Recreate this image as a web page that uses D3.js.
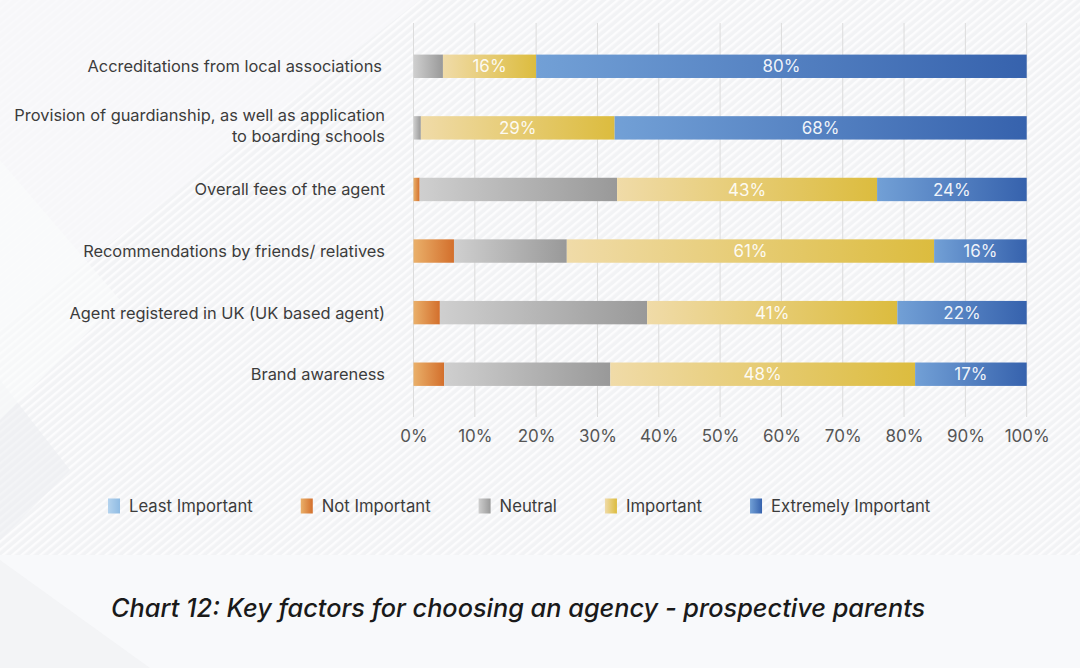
<!DOCTYPE html>
<html>

<head>
  <meta charset="utf-8">
  <title>Key factors for choosing an agency</title>
  <script src="https://d3js.org/d3.v7.min.js"></script>
  <style>
    body { margin: 0; background: #f6f7f9; }
    text { font-family: Inter, Roboto, sans-serif; }
  </style>
</head>

<body>
  <script>
    // data (segment widths in %, labels as printed)
    var categories = [
      "Accreditations from local associations",
      "Provision of guardianship, as well as application|to boarding schools",
      "Overall fees of the agent",
      "Recommendations by friends/ relatives",
      "Agent registered in UK (UK based agent)",
      "Brand awareness"
    ];
    var seriesNames = ["Least Important", "Not Important", "Neutral", "Important", "Extremely Important"];
    var leastImportant = [0, 0, 0, 0, 0, 0];
    var notImportant = [0, 0, 1, 6.6, 4.3, 5];
    var neutral = [4.8, 1.2, 32.2, 18.4, 33.8, 27.1];
    var important = [15.2, 31.6, 42.4, 59.9, 40.8, 49.7];
    var extremelyImportant = [80, 67.2, 24.4, 15.1, 21.1, 18.2];
    var importantLabels = ["16%", "29%", "43%", "61%", "41%", "48%"];
    var extremeLabels = ["80%", "68%", "24%", "16%", "22%", "17%"];
    var tickValues = [0, 10, 20, 30, 40, 50, 60, 70, 80, 90, 100];
    var title = "Chart 12: Key factors for choosing an agency - prospective parents";

    var width = 1080, height = 668;
    var colors = [
      ["#b4d3ee", "#8fbbe3"],
      ["#eab06a", "#d36f2c"],
      ["#cfcfcf", "#999999"],
      ["#f0dba8", "#dcbc3e"],
      ["#72a0d6", "#3662ad"]
    ];

    var table = categories.map(function (c, i) {
      return {
        name: c,
        "Least Important": leastImportant[i],
        "Not Important": notImportant[i],
        "Neutral": neutral[i],
        "Important": important[i],
        "Extremely Important": extremelyImportant[i],
        labels: { "Important": importantLabels[i], "Extremely Important": extremeLabels[i] }
      };
    });

    var svg = d3.select("body").append("svg").attr("width", width).attr("height", height);
    var defs = svg.append("defs");

    // background: striped light panel, plain lower band
    var pat = defs.append("pattern").attr("id", "stripes")
      .attr("width", 6).attr("height", 6)
      .attr("patternUnits", "userSpaceOnUse")
      .attr("patternTransform", "rotate(-40)");
    pat.append("rect").attr("width", 6).attr("height", 6).attr("fill", "#f2f3f5");
    pat.append("rect").attr("width", 6).attr("height", 2.4).attr("fill", "#fcfcfd");

    svg.append("rect").attr("width", width).attr("height", 555).attr("fill", "url(#stripes)");
    svg.append("path").attr("d", "M0,0 L420,0 L0,330 Z").attr("fill", "#f7f8fa").attr("opacity", 0.8);
    svg.append("path").attr("d", "M0,380 L70,470 L0,540 Z").attr("fill", "#eceef1").attr("opacity", 0.6);
    svg.append("path").attr("d", "M0,160 L120,300 L0,420 Z").attr("fill", "#fafbfc").attr("opacity", 0.6);
    svg.append("rect").attr("y", 555).attr("width", width).attr("height", height - 555).attr("fill", "#f8f9fb");
    svg.append("path").attr("d", "M0,560 L150,668 L0,668 Z").attr("fill", "#f3f4f6");

    // gradients per series
    seriesNames.forEach(function (s, i) {
      var g = defs.append("linearGradient").attr("id", "grad" + i)
        .attr("x1", 0).attr("x2", 1).attr("y1", 0).attr("y2", 0);
      g.append("stop").attr("offset", "0%").attr("stop-color", colors[i][0]);
      g.append("stop").attr("offset", "100%").attr("stop-color", colors[i][1]);
    });

    var x = d3.scaleLinear().domain([0, 100]).range([413.5, 1026.7]);
    var y = d3.scaleBand().domain(categories).range([35.5, 405])
      .paddingInner(0.62).paddingOuter(0.31);
    var gridTop = 23, gridBottom = 417;

    // gridlines
    svg.append("g").selectAll("line")
      .data(tickValues).enter().append("line")
      .attr("x1", d => x(d)).attr("x2", d => x(d))
      .attr("y1", gridTop).attr("y2", gridBottom)
      .attr("stroke", "#dcdcdc").attr("stroke-width", 1);

    // x axis labels
    var xAxis = svg.append("g")
      .attr("transform", "translate(0," + gridBottom + ")")
      .call(d3.axisBottom(x).tickValues(tickValues).tickFormat(d => d + "%").tickSize(0).tickPadding(13));
    xAxis.select(".domain").remove();
    xAxis.selectAll("text").attr("font-size", 17).attr("fill", "#555")
      .style("font-family", "Inter, sans-serif");

    // stacked bars
    var stack = d3.stack().keys(seriesNames)(table);
    var layers = svg.append("g").selectAll("g")
      .data(stack).enter().append("g")
      .attr("fill", (d, i) => "url(#grad" + i + ")");

    layers.selectAll("rect")
      .data(d => d).enter().append("rect")
      .attr("x", d => x(d[0]))
      .attr("y", d => y(d.data.name))
      .attr("width", d => x(d[1]) - x(d[0]))
      .attr("height", y.bandwidth());

    layers.each(function (layer) {
      if (layer.key !== "Important" && layer.key !== "Extremely Important") return;
      d3.select(this).selectAll("text")
        .data(layer).enter().append("text")
        .attr("x", d => (x(d[0]) + x(d[1])) / 2)
        .attr("y", d => y(d.data.name) + y.bandwidth() / 2)
        .attr("dy", "0.36em")
        .attr("text-anchor", "middle")
        .attr("font-size", 17)
        .attr("fill", "#ffffff")
        .attr("fill-opacity", 0.92)
        .text(d => d.data.labels[layer.key]);
    });

    // category labels
    var catLabels = svg.append("g").selectAll("text")
      .data(categories).enter().append("text")
      .attr("text-anchor", "end")
      .attr("font-size", 16.4)
      .attr("fill", "#3c3c3c")
      .attr("x", 385)
      .attr("y", function (d) {
        var lines = d.split("|").length;
        return y(d) + y.bandwidth() / 2 - (lines - 1) * 10.5 - (lines > 1 ? 2.5 : 0);
      });
    catLabels.each(function (d, k) {
      var t = d3.select(this);
      d.split("|").forEach(function (line, i) {
        t.append("tspan").attr("x", k === 0 ? 382 : 385).attr("dy", i === 0 ? "0.36em" : "21px").text(line);
      });
    });

    // legend
    var legend = svg.append("g").attr("transform", "translate(108,506)");
    var lx = 0;
    seriesNames.forEach(function (s, i) {
      var item = legend.append("g").attr("transform", "translate(" + lx + ",0)");
      item.append("rect").attr("x", 0).attr("y", -7.5).attr("width", 12).attr("height", 15)
        .attr("fill", "url(#grad" + i + ")");
      var t = item.append("text").attr("x", 21).attr("dy", "0.36em")
        .attr("font-size", 16.7).attr("fill", "#3c3c3c").text(s);
      lx += 21 + t.node().getComputedTextLength() + 48;
    });

    // title
    svg.append("text")
      .attr("x", 111).attr("y", 617)
      .attr("font-size", 25.3)
      .attr("font-weight", 500)
      .attr("font-style", "italic")
      .attr("fill", "#1a1a1a")
      .text(title);
  </script>

</body>

</html>
